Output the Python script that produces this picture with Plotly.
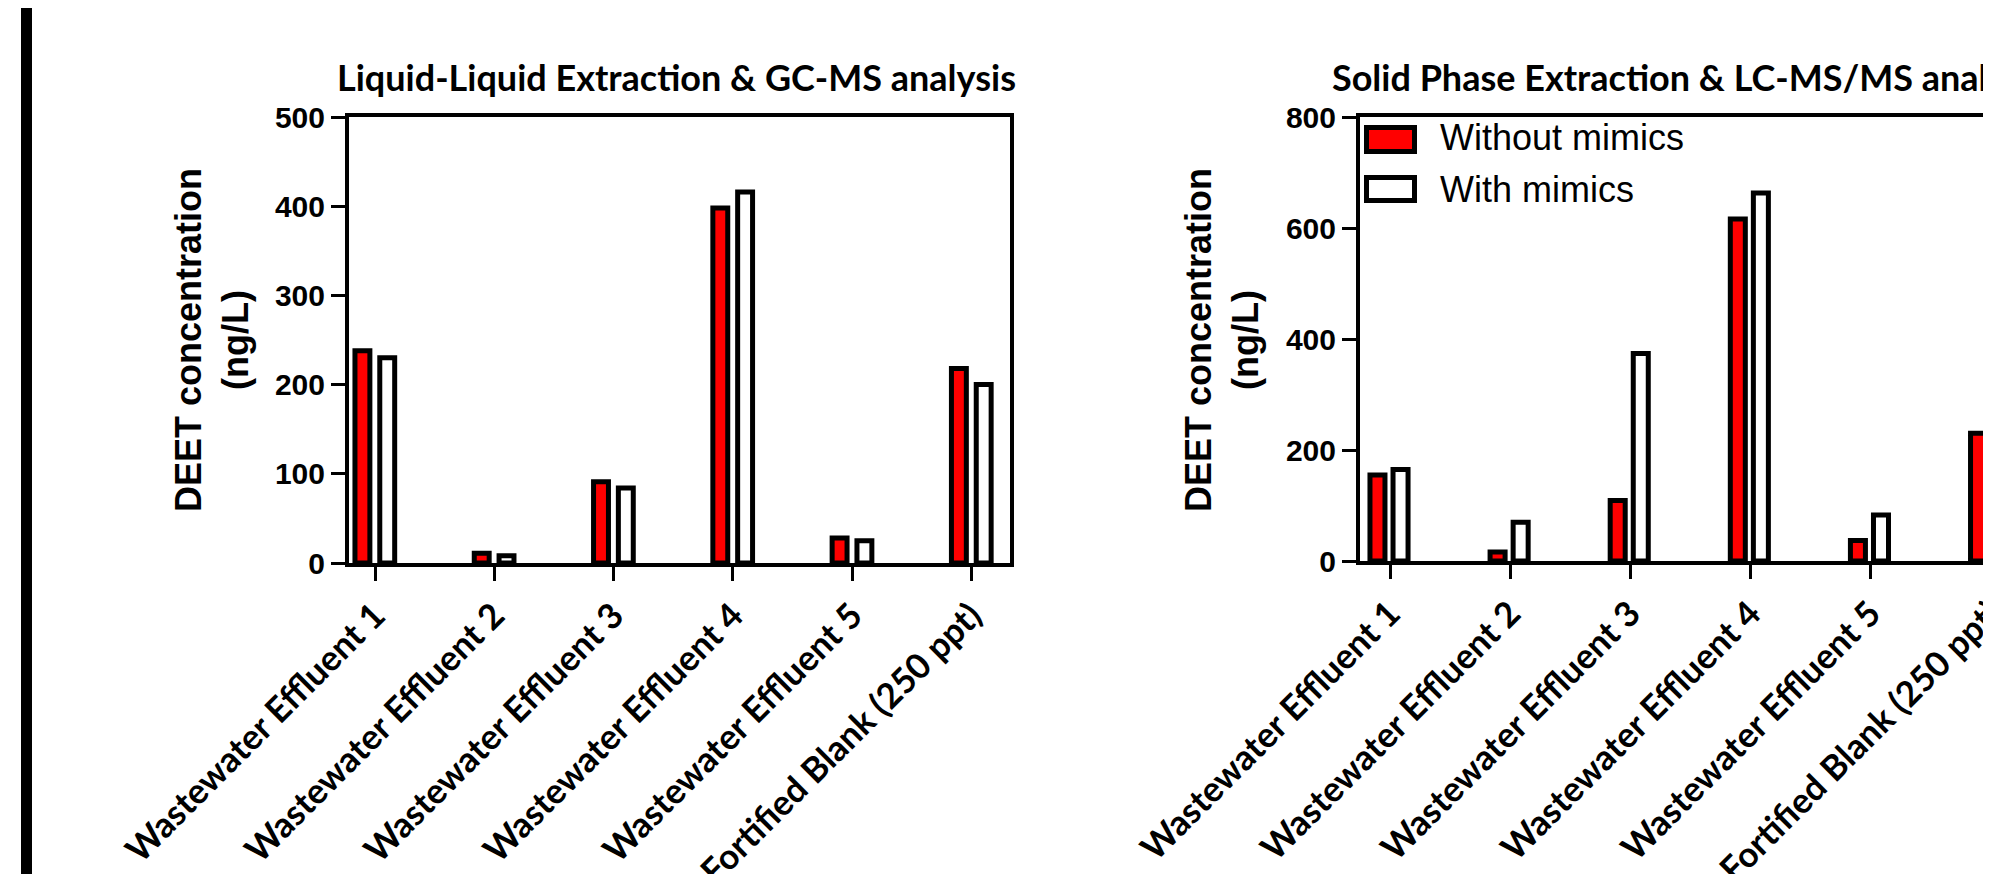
import plotly.graph_objects as go

# ---------------- data ----------------
categories = ["Wastewater Effluent 1", "Wastewater Effluent 2", "Wastewater Effluent 3",
              "Wastewater Effluent 4", "Wastewater Effluent 5", "Fortified Blank (250 ppt)"]
series_names = ["Without mimics", "With mimics"]
lle_without = [238, 11, 91, 398, 28, 218]
lle_with = [230, 8, 84, 416, 25, 200]
spe_without = [155, 16, 109, 616, 37, 230]
spe_with = [165, 70, 374, 663, 83, 302]
lle_yticks = [0, 100, 200, 300, 400, 500]
spe_yticks = [0, 200, 400, 600, 800]
title_left = "Liquid-Liquid Extraction & GC-MS analysis"
title_right = "Solid Phase Extraction & LC-MS/MS analysis"
y_title = "DEET concentration<br>(ng/L)"

W, H = 1991, 874
def X(px):
    return px / W
def Y(py):
    return 1 - py / H

RED = "#FF0000"
BLACK = "#000000"
TICK_FONT = dict(family="Liberation Sans, Arial", size=30, color=BLACK, weight="bold")
CAT_FONT = dict(family="Lato, Carlito, Calibri", size=35, color=BLACK, weight="bold")

fig = go.Figure()

def add_bars(vals_a, vals_b, xa, ya, width, off_a, off_b):
    fig.add_trace(go.Bar(x=categories, y=vals_a, name=series_names[0], xaxis=xa, yaxis=ya,
                         marker=dict(color=RED, line=dict(color=BLACK, width=5)),
                         width=width, offset=off_a, showlegend=False))
    fig.add_trace(go.Bar(x=categories, y=vals_b, name=series_names[1], xaxis=xa, yaxis=ya,
                         marker=dict(color="white", line=dict(color=BLACK, width=5)),
                         width=width, offset=off_b, showlegend=False))

add_bars(lle_without, lle_with, "x", "y", 0.125, -0.168, 0.04)
add_bars(spe_without, spe_with, "x2", "y2", 0.125, -0.167, 0.025)

common_x = dict(type="category", showline=True, linewidth=4, linecolor=BLACK,
                ticks="outside", ticklen=14, tickwidth=3, tickcolor=BLACK,
                tickangle=-45, tickfont=CAT_FONT, showgrid=False, zeroline=False,
                automargin=False, fixedrange=True)
common_y = dict(showline=True, linewidth=4, linecolor=BLACK,
                ticks="outside", ticklen=14, tickwidth=3, tickcolor=BLACK,
                tickfont=TICK_FONT, showgrid=False, zeroline=False,
                automargin=False, fixedrange=True)

fig.update_layout(
    width=W, height=H, autosize=False,
    margin=dict(l=0, r=0, t=0, b=0, pad=0),
    paper_bgcolor="white", plot_bgcolor="white",
    barmode="group", showlegend=False,
    xaxis=dict(common_x, domain=[X(341), X(1002)], range=[-0.218, 5.323], anchor="y", mirror=True),
    yaxis=dict(common_y, domain=[Y(555), Y(109)], range=[0, 500], tickvals=lle_yticks,
               anchor="x", mirror=True),
    xaxis2=dict(common_x, domain=[X(1352), 1.0], range=[-0.25, 5.07], anchor="y2", mirror=True),
    yaxis2=dict(common_y, domain=[Y(553), Y(109)], range=[0, 800], tickvals=spe_yticks,
                anchor="x2", mirror=False),
)

shapes = [dict(type="rect", xref="paper", yref="paper", x0=X(13), x1=X(24), y0=0, y1=1,
               fillcolor=BLACK, line=dict(width=0))]
# legend boxes (drawn by hand to match the large swatches)
shapes.append(dict(type="rect", xref="paper", yref="paper", x0=X(1358.5), x1=X(1406.5),
                   y0=Y(143.5), y1=Y(119.5), fillcolor=RED, line=dict(color=BLACK, width=5)))
shapes.append(dict(type="rect", xref="paper", yref="paper", x0=X(1358.5), x1=X(1406.5),
                   y0=Y(192.5), y1=Y(169.5), fillcolor="white", line=dict(color=BLACK, width=5)))

ann = []
TITLE_FONT = dict(family="Lato, Carlito, Calibri", size=36, color=BLACK, weight="bold")
ann.append(dict(text=title_left, x=X(327), y=Y(69), xref="paper", yref="paper",
                xanchor="left", yanchor="middle", showarrow=False, font=TITLE_FONT))
ann.append(dict(text=title_right, x=X(1322), y=Y(69), xref="paper", yref="paper",
                xanchor="left", yanchor="middle", showarrow=False, font=TITLE_FONT))
YT_FONT = dict(family="Liberation Sans, Arial", size=36, color=BLACK, weight="bold")
for xc in (204, 1214):
    ann.append(dict(text=y_title, x=X(xc), y=Y(332), xref="paper", yref="paper",
                    xanchor="center", yanchor="middle", textangle=-90, showarrow=False,
                    font=YT_FONT))
LEG_FONT = dict(family="Liberation Sans, Arial", size=36, color=BLACK)
ann.append(dict(text=series_names[0], x=X(1430), y=Y(130), xref="paper", yref="paper",
                xanchor="left", yanchor="middle", showarrow=False, font=LEG_FONT))
ann.append(dict(text=series_names[1], x=X(1430), y=Y(181), xref="paper", yref="paper",
                xanchor="left", yanchor="middle", showarrow=False, font=LEG_FONT))

fig.update_layout(shapes=shapes, annotations=ann)
fig.write_html("out.html", config={"displayModeBar": False})
